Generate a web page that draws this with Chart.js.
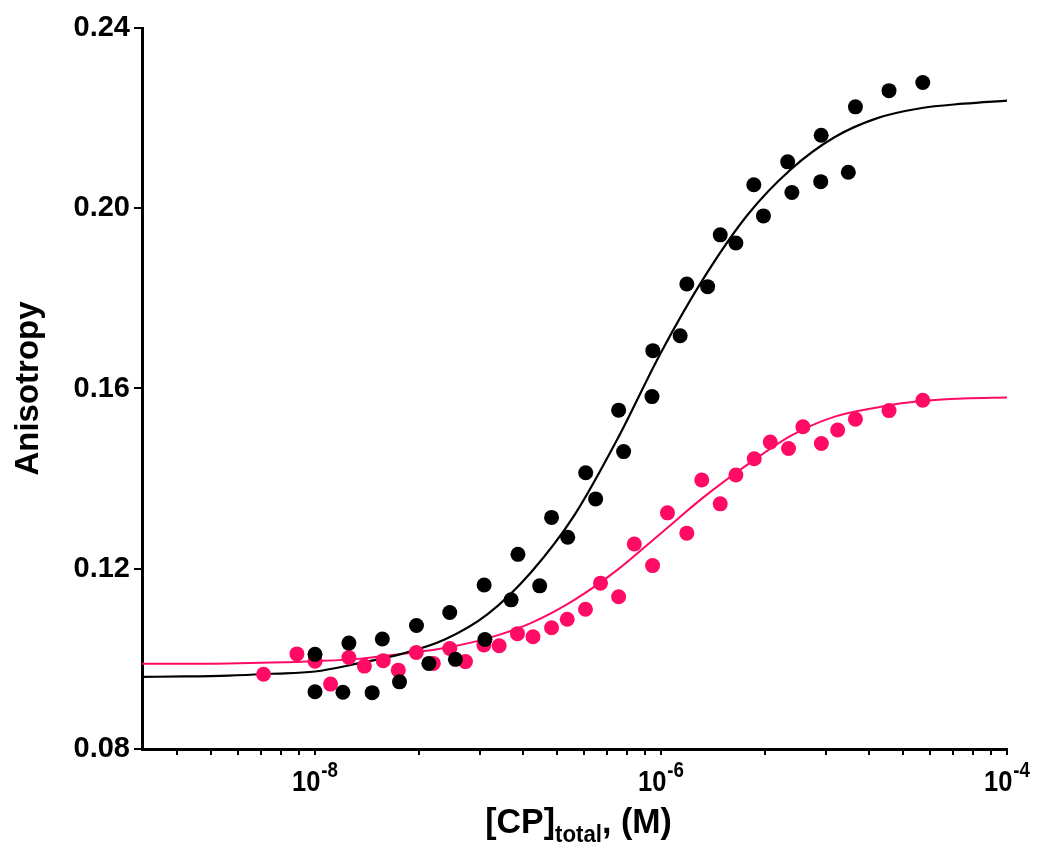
<!DOCTYPE html>
<html><head><meta charset="utf-8">
<script src="https://cdn.jsdelivr.net/npm/chart.js@4.4.1/dist/chart.umd.min.js"></script>
<style>html,body{margin:0;padding:0;background:#fff;} canvas{display:block;}</style>
</head><body>
<canvas id="c" width="1050" height="855"></canvas>
<script>
// ---- data ----
const blackX = [1.0e-8, 1.0e-8, 1.45e-8, 1.57e-8, 2.14e-8, 2.45e-8, 3.08e-8, 3.86e-8, 4.55e-8, 6.01e-8, 6.48e-8, 9.6e-8, 9.5e-8, 1.36e-7, 1.49e-7, 1.99e-7, 2.33e-7, 2.89e-7, 3.67e-7, 4.19e-7, 5.69e-7, 6.08e-7, 8.87e-7, 8.97e-7, 1.29e-6, 1.41e-6, 1.86e-6, 2.20e-6, 2.71e-6, 3.44e-6, 3.91e-6, 5.40e-6, 5.71e-6, 8.38e-6, 8.43e-6, 1.21e-5, 1.33e-5, 2.08e-5, 3.26e-5];
const blackY = [0.0927, 0.1010, 0.0926, 0.1035, 0.0925, 0.1044, 0.0949, 0.1074, 0.0990, 0.1103, 0.0999, 0.1043, 0.1164, 0.1131, 0.1232, 0.1162, 0.1314, 0.1270, 0.1413, 0.1355, 0.1552, 0.1460, 0.1582, 0.1684, 0.1717, 0.1832, 0.1826, 0.1941, 0.1923, 0.2052, 0.1983, 0.2103, 0.2035, 0.2059, 0.2162, 0.2080, 0.2225, 0.2261, 0.2279];
const pinkX = [5.04e-9, 7.86e-9, 1.0e-8, 1.23e-8, 1.57e-8, 1.93e-8, 2.48e-8, 3.03e-8, 3.85e-8, 4.83e-8, 6.01e-8, 7.41e-8, 9.47e-8, 1.16e-7, 1.48e-7, 1.82e-7, 2.33e-7, 2.87e-7, 3.66e-7, 4.47e-7, 5.69e-7, 7.01e-7, 8.94e-7, 1.09e-6, 1.41e-6, 1.72e-6, 2.20e-6, 2.71e-6, 3.46e-6, 4.28e-6, 5.46e-6, 6.61e-6, 8.45e-6, 1.05e-5, 1.33e-5, 2.08e-5, 3.26e-5];
const pinkY = [0.0966, 0.1011, 0.0995, 0.0944, 0.1003, 0.0984, 0.0996, 0.0975, 0.1014, 0.0990, 0.1023, 0.0994, 0.1031, 0.1029, 0.1056, 0.1049, 0.1069, 0.1088, 0.1110, 0.1168, 0.1138, 0.1255, 0.1207, 0.1324, 0.1279, 0.1397, 0.1344, 0.1408, 0.1444, 0.1481, 0.1467, 0.1515, 0.1478, 0.1508, 0.1532, 0.1551, 0.1574];
// fitted curves
const curveX = [1e-9, 1.78e-9, 3.16e-9, 5.62e-9, 1e-8, 1.78e-8, 3.16e-8, 5.62e-8, 1e-7, 1.78e-7, 3.16e-7, 5.62e-7, 1e-6, 1.78e-6, 3.16e-6, 5.62e-6, 1e-5, 1.78e-5, 3.16e-5, 5.62e-5, 1e-4];
const blackCurveY = [0.0960, 0.0961, 0.0963, 0.0967, 0.0972, 0.0990, 0.1011, 0.1043, 0.1100, 0.1193, 0.1319, 0.1489, 0.1680, 0.1847, 0.1985, 0.2086, 0.2157, 0.2200, 0.2222, 0.2232, 0.2239];
const pinkCurveY = [0.0989, 0.0989, 0.0990, 0.0992, 0.0995, 0.1000, 0.1011, 0.1024, 0.1046, 0.1080, 0.1131, 0.1198, 0.1279, 0.1360, 0.1431, 0.1495, 0.1537, 0.1558, 0.1572, 0.1578, 0.1580];
// axis ticks
const yTicks = [0.08, 0.12, 0.16, 0.20, 0.24];
const xMajorTicks = [1e-8, 1e-6, 1e-4];
const xMajorExp = ['-8', '-6', '-4'];
const xMinorTicks = [1.6e-9, 2.5e-9, 3.6e-9, 4.9e-9, 6.4e-9, 8.1e-9, 4e-8, 9e-8, 1.6e-7, 2.5e-7, 3.6e-7, 4.9e-7, 6.4e-7, 8.1e-7, 4e-6, 9e-6, 1.6e-5, 2.5e-5, 3.6e-5, 4.9e-5, 6.4e-5, 8.1e-5];
const xTitleParts = ['[CP]', 'total', ', (M)'];
const yTitle = 'Anisotropy';

const BLACK = '#000000';
const PINK = '#FF0A64';
const FONT = '"Liberation Sans", Arial, Helvetica, sans-serif';

const pts = (xs, ys) => xs.map((x, i) => ({x: x, y: ys[i]}));

const textPlugin = {
  id: 'customText',
  afterDraw(chart) {
    const ctx = chart.ctx, xs = chart.scales.x, area = chart.chartArea;
    const sx = 0.85;
    ctx.save();
    ctx.fillStyle = '#000';
    ctx.textBaseline = 'alphabetic';
    ctx.textAlign = 'left';
    xMajorTicks.forEach((v, i) => {
      const px = xs.getPixelForValue(v);
      ctx.font = 'bold 30px ' + FONT;
      const w1 = ctx.measureText('10').width;
      ctx.font = 'bold 22px ' + FONT;
      const w2 = ctx.measureText(xMajorExp[i]).width;
      const gap = 1;
      const total = (w1 + gap + w2) * sx;
      ctx.save();
      ctx.translate(px - total / 2, area.bottom + 42);
      ctx.scale(sx, 1);
      ctx.font = 'bold 30px ' + FONT;
      ctx.fillText('10', 0, 0);
      ctx.font = 'bold 22px ' + FONT;
      ctx.fillText(xMajorExp[i], w1 + gap, -14);
      ctx.restore();
    });
    // x axis title with subscript
    const sizes = [35, 23, 35];
    const dys = [0, 9, 0];
    const tsx = 0.97;
    let widths = xTitleParts.map((t, i) => { ctx.font = 'bold ' + sizes[i] + 'px ' + FONT; return ctx.measureText(t).width; });
    const totalW = widths.reduce((a, b) => a + b, 0) * tsx;
    const cx = (area.left + area.right) / 2 + 4;
    ctx.save();
    ctx.translate(cx - totalW / 2, area.bottom + 84);
    ctx.scale(tsx, 1);
    let xx = 0;
    xTitleParts.forEach((t, i) => {
      ctx.font = 'bold ' + sizes[i] + 'px ' + FONT;
      ctx.fillText(t, xx, dys[i]);
      xx += widths[i];
    });
    ctx.restore();
    ctx.restore();
  }
};

new Chart(document.getElementById('c'), {
  type: 'scatter',
  data: {
    datasets: [
      { label: 'black data', data: pts(blackX, blackY), backgroundColor: BLACK, borderWidth: 0, pointRadius: 7.5, pointHoverRadius: 7.5, showLine: false },
      { label: 'pink data', data: pts(pinkX, pinkY), backgroundColor: PINK, borderWidth: 0, pointRadius: 7.5, pointHoverRadius: 7.5, showLine: false },
      { label: 'black fit', data: pts(curveX, blackCurveY), showLine: true, borderColor: BLACK, borderWidth: 2.2, pointRadius: 0, cubicInterpolationMode: 'monotone', fill: false },
      { label: 'pink fit', data: pts(curveX, pinkCurveY), showLine: true, borderColor: PINK, borderWidth: 2, pointRadius: 0, cubicInterpolationMode: 'monotone', fill: false }
    ]
  },
  options: {
    responsive: false,
    animation: false,
    devicePixelRatio: 1,
    layout: { padding: { top: 28, right: 43, left: 0, bottom: 0 } },
    plugins: { legend: { display: false }, tooltip: { enabled: false } },
    scales: {
      x: {
        type: 'logarithmic',
        min: 1e-9, max: 1e-4,
        position: 'bottom',
        border: { display: true, color: BLACK, width: 3 },
        grid: { drawOnChartArea: false, drawTicks: true, tickLength: 6, color: BLACK, lineWidth: 2 },
        ticks: { autoSkip: false, maxRotation: 0, callback: () => '' },
        afterBuildTicks: (s) => { s.ticks = xMinorTicks.concat(xMajorTicks).sort((a, b) => a - b).map(v => ({ value: v })); },
        afterFit: (s) => { s.height = 106; }
      },
      y: {
        type: 'linear',
        min: 0.08, max: 0.24,
        border: { display: true, color: BLACK, width: 3 },
        grid: { drawOnChartArea: false, drawTicks: true, tickLength: 8, color: BLACK, lineWidth: 2 },
        ticks: { color: BLACK, padding: 4, font: { family: FONT, weight: 'bold', size: 29 }, callback: (v) => Number(v).toFixed(2) },
        afterBuildTicks: (s) => { s.ticks = yTicks.map(v => ({ value: v })); },
        title: { display: true, text: yTitle, color: BLACK, font: { family: FONT, weight: 'bold', size: 33 }, padding: { top: 9, bottom: 0 } },
        afterFit: (s) => { s.width = 142; }
      }
    }
  },
  plugins: [textPlugin]
});
</script>
</body></html>
